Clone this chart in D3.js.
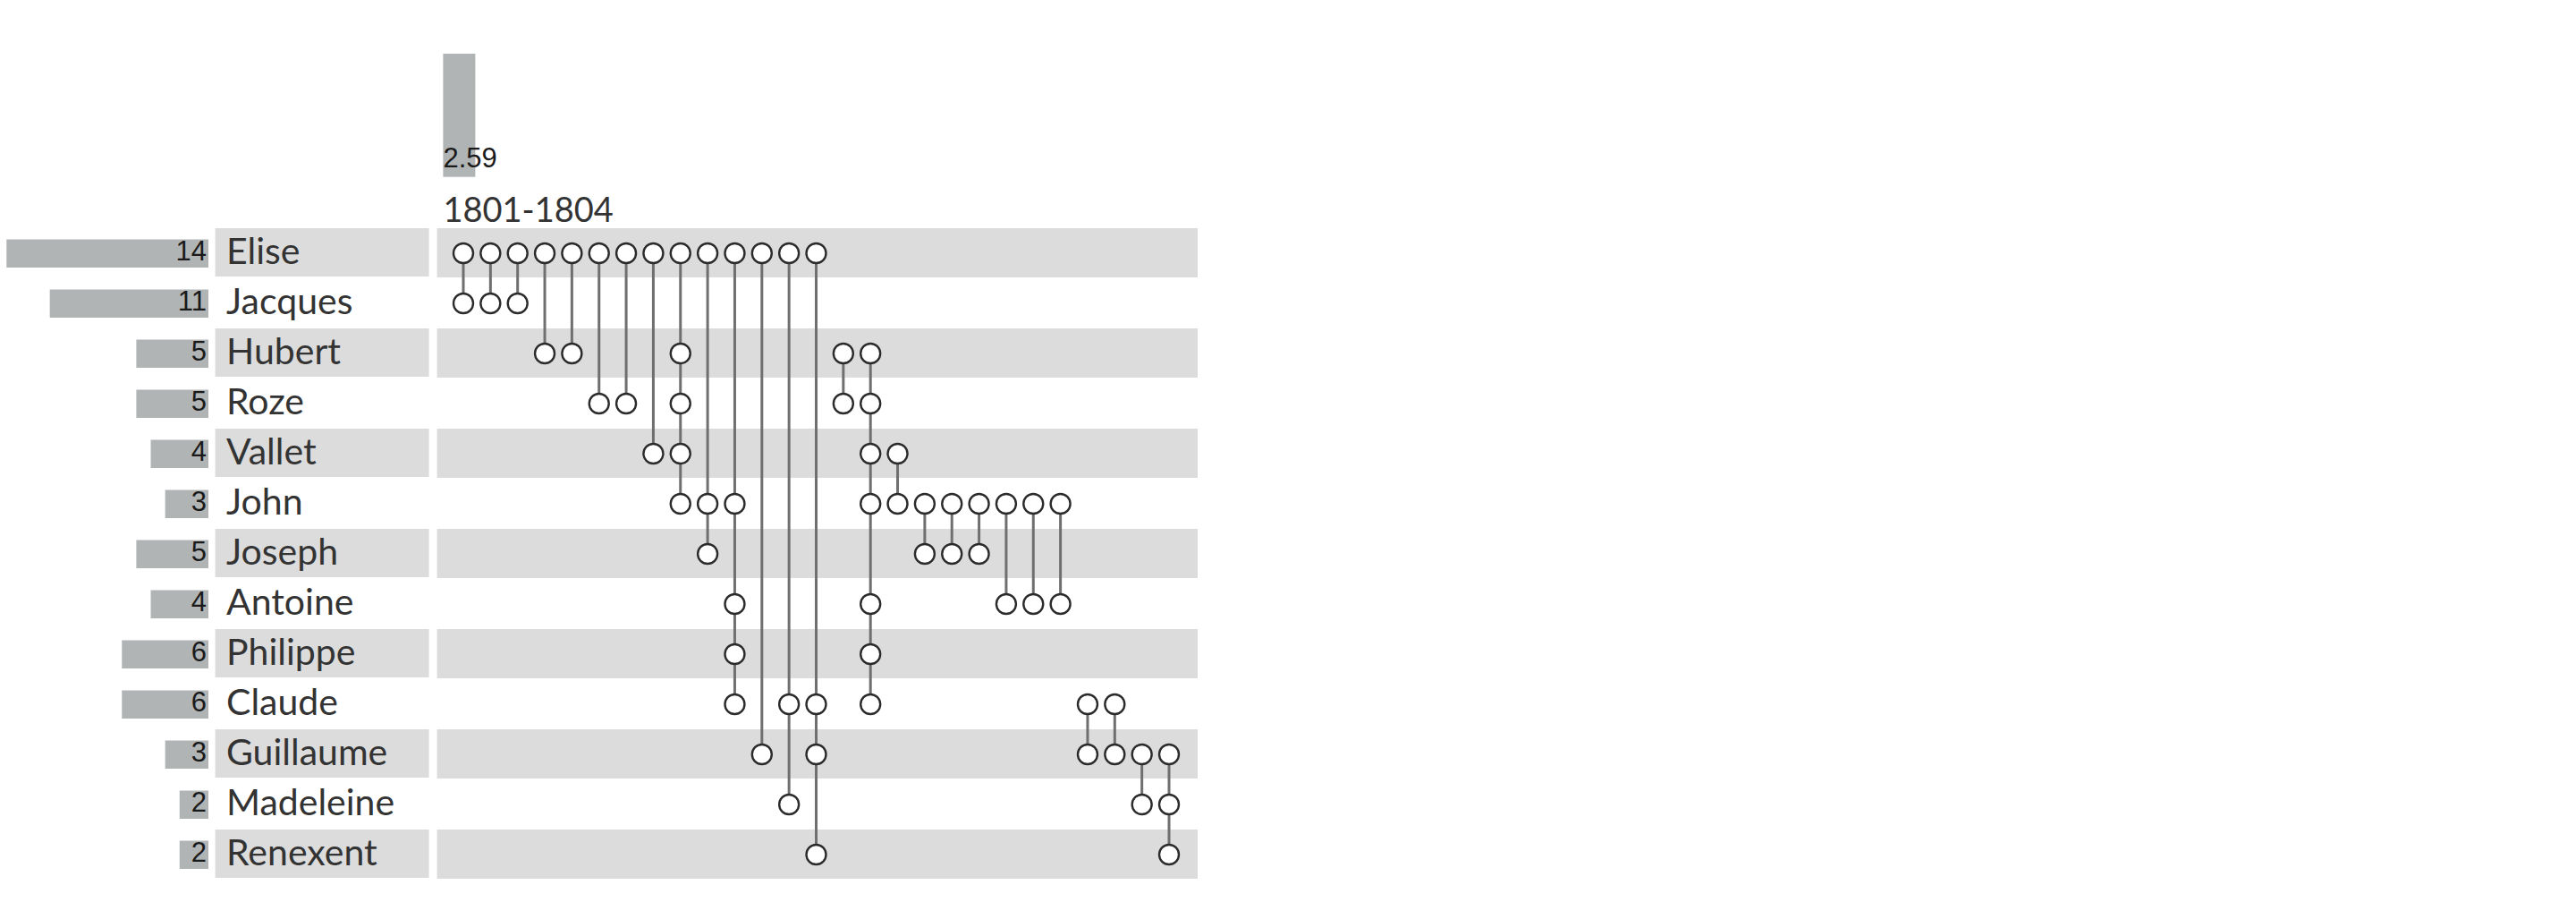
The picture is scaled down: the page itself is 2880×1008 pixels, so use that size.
<!DOCTYPE html>
<html><head><meta charset="utf-8">
<script src="https://cdn.jsdelivr.net/npm/d3@7"></script>
<style>html,body{margin:0;padding:0;background:#fff;}svg{display:block;}</style>
</head><body>
<svg id="chart" width="2880" height="1008"></svg>
<script>
const names = ["Elise","Jacques","Hubert","Roze","Vallet","John","Joseph","Antoine","Philippe","Claude","Guillaume","Madeleine","Renexent"];
const nameTotals = [14, 11, 5, 5, 4, 3, 5, 4, 6, 6, 3, 2, 2];
const columnSets = [
  ["Elise","Jacques"],["Elise","Jacques"],["Elise","Jacques"],
  ["Elise","Hubert"],["Elise","Hubert"],
  ["Elise","Roze"],["Elise","Roze"],
  ["Elise","Vallet"],
  ["Elise","Hubert","Roze","Vallet","John"],
  ["Elise","John","Joseph"],
  ["Elise","John","Antoine","Philippe","Claude"],
  ["Elise","Guillaume"],
  ["Elise","Claude","Madeleine"],
  ["Elise","Claude","Guillaume","Renexent"],
  ["Hubert","Roze"],
  ["Hubert","Roze","Vallet","John","Antoine","Philippe","Claude"],
  ["Vallet","John"],
  ["John","Joseph"],["John","Joseph"],["John","Joseph"],
  ["John","Antoine"],["John","Antoine"],["John","Antoine"],
  ["Claude","Guillaume"],["Claude","Guillaume"],
  ["Guillaume","Madeleine"],
  ["Guillaume","Madeleine","Renexent"]
];
const topValues = [2.59];
const topLabels = ["1801-1804"];

const svg = d3.select("#chart");
const colIdx = d3.range(columnSets.length);

const y = d3.scalePoint().domain(names).range([283, 283 + 56 * (names.length - 1)]);
const x = d3.scalePoint().domain(colIdx).range([518, 1307]);
const wLeft = d3.scaleLinear().domain([0, 14]).range([0, 225.7]);
const hTop = d3.scaleLinear().domain([0, 2.59]).range([197.7, 60]);

const bandH = 55;
// row backgrounds
names.forEach((n, i) => {
  if (i % 2 === 0) {
    svg.append("rect").attr("x", 488.6).attr("y", y(n) - 28).attr("width", 1339 - 488.6).attr("height", bandH).attr("fill", "#dcdcdc");
    svg.append("rect").attr("x", 240.6).attr("y", y(n) - 28).attr("width", 239).attr("height", bandH - 1).attr("fill", "#dcdcdc");
  }
});

// left bars
svg.selectAll("rect.lb").data(names).join("rect").attr("class","lb")
  .attr("x", (d,i) => 233 - wLeft(nameTotals[i]))
  .attr("y", d => y(d) - 15.5)
  .attr("width", (d,i) => wLeft(nameTotals[i]))
  .attr("height", 31.5)
  .attr("fill", "#b1b4b4");
svg.selectAll("text.lv").data(names).join("text").attr("class","lv")
  .attr("x", 231).attr("y", d => y(d) + 7.5)
  .attr("text-anchor","end")
  .attr("font-family","'Liberation Sans', Arial, sans-serif").attr("font-size", 31)
  .attr("fill","#1a1a1a")
  .text((d,i) => nameTotals[i]);
svg.selectAll("text.nm").data(names).join("text").attr("class","nm")
  .attr("x", 253).attr("y", d => y(d) + 12)
  .attr("font-family","Lato, sans-serif").attr("font-size", 41)
  .attr("fill","#333")
  .text(d => d);

// top bar
topValues.forEach((v, i) => {
  const cx = x(i) - 4.6;
  svg.append("rect").attr("x", cx - 18).attr("y", hTop(v)).attr("width", 36).attr("height", hTop(0) - hTop(v)).attr("fill", "#b1b4b4");
  svg.append("text").attr("x", cx - 18).attr("y", 186.7)
    .attr("font-family","'Liberation Sans', Arial, sans-serif").attr("font-size", 31).attr("fill","#1a1a1a")
    .text(d3.format(".2f")(v));
  svg.append("text").attr("x", cx - 18).attr("y", 248.3)
    .attr("font-family","Lato, sans-serif").attr("font-size", 38).attr("fill","#333")
    .text(topLabels[i]);
});

// matrix lines
const cols = svg.selectAll("g.col").data(columnSets).join("g").attr("class","col")
  .attr("transform", (d,i) => `translate(${x(i)},0)`);
cols.append("line")
  .attr("y1", d => d3.min(d, n => y(n)))
  .attr("y2", d => d3.max(d, n => y(n)))
  .attr("stroke", "#6f6f6f").attr("stroke-width", 3);
cols.selectAll("circle").data(d => d).join("circle")
  .attr("cy", n => y(n)).attr("r", 11)
  .attr("fill", "#fff").attr("stroke", "#2b2b2b").attr("stroke-width", 2.4);
</script>
</body></html>
